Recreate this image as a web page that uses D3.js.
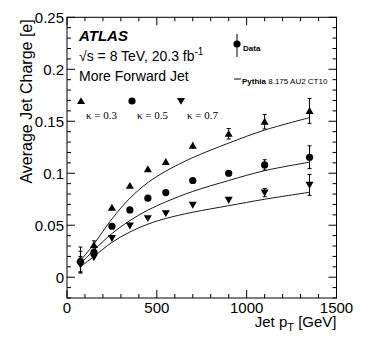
<!DOCTYPE html>
<html>
<head>
<meta charset="utf-8">
<script src="https://cdn.jsdelivr.net/npm/d3@7"></script>
<style>
  body { margin: 0; background: #fff; }
  svg { display: block; }
</style>
</head>
<body>
<svg id="chart"></svg>
<script>
// bin centres in GeV
const ptBins = [75, 150, 250, 350, 450, 550, 700, 900, 1100, 1350];

// data points
const data03 = [0.017, 0.031, 0.067, 0.088, 0.104, 0.111, 0.1265, 0.138, 0.1496, 0.160];
const data05 = [0.015, 0.024, 0.049, 0.0647, 0.076, 0.0814, 0.093, 0.100, 0.108, 0.1154];
const data07 = [0.012, 0.0192, 0.0375, 0.0496, 0.0567, 0.0615, 0.0695, 0.0743, 0.0814, 0.0888];

// error on data points
const err03 = [0.012, 0.004, 0.002, 0.002, 0.002, 0.002, 0.003, 0.005, 0.007, 0.012];
const err05 = [0.010, 0.003, 0.002, 0.002, 0.002, 0.002, 0.002, 0.003, 0.005, 0.011];
const err07 = [0.008, 0.003, 0.002, 0.002, 0.002, 0.002, 0.002, 0.003, 0.004, 0.010];

// Pythia prediction
const mc03 = [0.016, 0.032, 0.056, 0.076, 0.091, 0.102, 0.115, 0.129, 0.1415, 0.1535];
const mc05 = [0.013, 0.026, 0.042, 0.0545, 0.0645, 0.0725, 0.0825, 0.093, 0.1025, 0.1106];
const mc07 = [0.010, 0.020, 0.0335, 0.0435, 0.051, 0.0565, 0.0625, 0.0688, 0.075, 0.0817];

const xTicks = [0, 500, 1000, 1500];
const yTicks = [0, 0.05, 0.1, 0.15, 0.2, 0.25];

const width = 374, height = 355;
const margin = { top: 17.3, right: 37.5, bottom: 57, left: 67 };
const font = "'Liberation Sans', Arial, sans-serif";

const svg = d3.select("#chart").attr("width", width).attr("height", height);

const x = d3.scaleLinear().domain([0, 1500]).range([margin.left, width - margin.right]);
const y = d3.scaleLinear().domain([-0.02, 0.25]).range([height - margin.bottom, margin.top]);

const x0 = x.range()[0], x1 = x.range()[1];
const y0 = y.range()[0], y1 = y.range()[1];

// frame
svg.append("rect")
  .attr("x", x0).attr("y", y1)
  .attr("width", x1 - x0).attr("height", y0 - y1)
  .attr("fill", "none").attr("stroke", "#000").attr("stroke-width", 1);

// ticks (inward, all four sides)
const ticks = svg.append("g").attr("stroke", "#000").attr("stroke-width", 1);
d3.range(0, 1501, 100).forEach(v => {
  const len = v % 500 === 0 ? 8 : 4;
  ticks.append("line").attr("x1", x(v)).attr("x2", x(v)).attr("y1", y0).attr("y2", y0 - len);
  ticks.append("line").attr("x1", x(v)).attr("x2", x(v)).attr("y1", y1).attr("y2", y1 + len);
});
d3.range(-2, 26).forEach(i => {
  const v = i / 100;
  const len = i % 5 === 0 ? 8 : 4;
  ticks.append("line").attr("x1", x0).attr("x2", x0 + len).attr("y1", y(v)).attr("y2", y(v));
  ticks.append("line").attr("x1", x1).attr("x2", x1 - len).attr("y1", y(v)).attr("y2", y(v));
});

// tick labels
svg.append("g").selectAll("text")
  .data(yTicks).enter().append("text")
  .attr("x", x0 - 3).attr("y", d => y(d)).attr("dy", "0.36em")
  .attr("text-anchor", "end")
  .attr("font-family", font).attr("font-size", "15px")
  .text(d => d === 0 ? "0" : d3.format("")(d));

svg.append("g").selectAll("text")
  .data(xTicks).enter().append("text")
  .attr("x", d => x(d)).attr("y", 313)
  .attr("text-anchor", "middle")
  .attr("font-family", font).attr("font-size", "15px")
  .text(d => d);

// axis titles
const xt = svg.append("text")
  .attr("x", x1).attr("y", 327)
  .attr("text-anchor", "end")
  .attr("font-family", font).attr("font-size", "15px");
xt.append("tspan").text("Jet p");
xt.append("tspan").attr("font-size", "11px").attr("dy", 4).text("T");
xt.append("tspan").attr("dy", -4).text(" [GeV]");

svg.append("text")
  .attr("transform", `translate(32, ${y1 + 2}) rotate(-90)`)
  .attr("text-anchor", "end")
  .attr("font-family", font).attr("font-size", "16px")
  .text("Average Jet Charge [e]");

// markers
const triUp = d3.symbol().type(d3.symbolTriangle).size(28);
const triDown = d3.symbol().type(d3.symbolTriangle).size(28);

const series = [
  { vals: data03, errs: err03, mc: mc03, mark: "up" },
  { vals: data05, errs: err05, mc: mc05, mark: "circle" },
  { vals: data07, errs: err07, mc: mc07, mark: "down" }
];

const line = d3.line()
  .x((d, i) => x(ptBins[i]))
  .y(d => y(d))
  .curve(d3.curveCatmullRom.alpha(0.5));

function drawMarker(g, kind, cx, cy) {
  if (kind === "circle") {
    g.append("circle").attr("cx", cx).attr("cy", cy).attr("r", 3.6).attr("fill", "#000");
  } else if (kind === "up") {
    g.append("path").attr("d", triUp()).attr("transform", `translate(${cx},${cy + 0.8})`).attr("fill", "#000");
  } else {
    g.append("path").attr("d", triDown()).attr("transform", `translate(${cx},${cy - 0.8}) rotate(180)`).attr("fill", "#000");
  }
}

series.forEach(s => {
  svg.append("path")
    .datum(s.mc)
    .attr("d", line)
    .attr("fill", "none").attr("stroke", "#000").attr("stroke-width", 0.9);

  const g = svg.append("g");
  s.vals.forEach((v, i) => {
    const cx = x(ptBins[i]);
    const top = y(v + s.errs[i]), bot = y(v - s.errs[i]);
    g.append("line").attr("x1", cx).attr("x2", cx).attr("y1", top).attr("y2", bot)
      .attr("stroke", "#000").attr("stroke-width", 1);
    if (bot - top > 8) {
      g.append("line").attr("x1", cx - 2).attr("x2", cx + 2).attr("y1", top).attr("y2", top).attr("stroke", "#000");
      g.append("line").attr("x1", cx - 2).attr("x2", cx + 2).attr("y1", bot).attr("y2", bot).attr("stroke", "#000");
    }
    drawMarker(g, s.mark, cx, y(v));
  });
});

// labels
svg.append("text")
  .attr("x", 79).attr("y", 41)
  .attr("font-family", font).attr("font-size", "15px")
  .attr("font-weight", "bold").attr("font-style", "italic")
  .text("ATLAS");

const sq = svg.append("text")
  .attr("x", 79).attr("y", 61)
  .attr("font-family", font).attr("font-size", "14px");
sq.append("tspan").text("\u221As = 8 TeV, 20.3 fb");
sq.append("tspan").attr("font-size", "10px").attr("dy", -6).text("-1");

svg.append("text")
  .attr("x", 79).attr("y", 81)
  .attr("font-family", font).attr("font-size", "14px")
  .text("More Forward Jet");

// kappa legend
const kap = [
  { mark: "up", label: "\u03BA = 0.3", mx: 81, tx: 86 },
  { mark: "circle", label: "\u03BA = 0.5", mx: 132, tx: 137 },
  { mark: "down", label: "\u03BA = 0.7", mx: 181, tx: 187 }
];
const kg = svg.append("g");
kap.forEach(k => {
  drawMarker(kg, k.mark, k.mx, 101);
  kg.append("text")
    .attr("x", k.tx).attr("y", 119)
    .attr("font-family", "'Liberation Serif', 'Times New Roman', serif")
    .attr("font-size", "11px")
    .text(k.label);
});

// data / MC legend
const lg = svg.append("g");
lg.append("line").attr("x1", 237).attr("x2", 237).attr("y1", 34).attr("y2", 57).attr("stroke", "#000");
lg.append("circle").attr("cx", 237).attr("cy", 44).attr("r", 3.6).attr("fill", "#000");
lg.append("text")
  .attr("x", 243).attr("y", 51)
  .attr("font-family", font).attr("font-size", "8px").attr("font-weight", "bold")
  .text("Data");
lg.append("line").attr("x1", 234).attr("x2", 241).attr("y1", 79).attr("y2", 79).attr("stroke", "#000");
const py = lg.append("text")
  .attr("x", 242).attr("y", 84)
  .attr("font-family", font).attr("font-size", "8px");
py.append("tspan").attr("font-weight", "bold").text("Pythia");
py.append("tspan").text(" 8.175 AU2 CT10");
</script>
</body>
</html>
